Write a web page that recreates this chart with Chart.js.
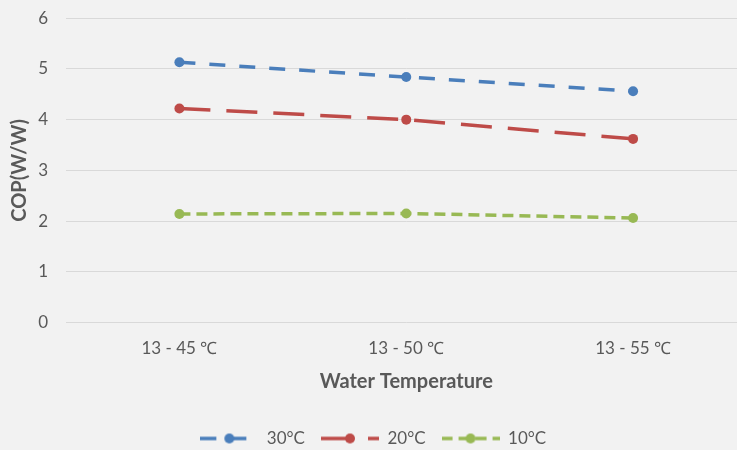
<!DOCTYPE html>
<html>
<head>
<meta charset="utf-8">
<script src="https://cdn.jsdelivr.net/npm/chart.js@4/dist/chart.umd.min.js"></script>
<style>
  html, body { margin: 0; padding: 0; background: #f2f2f2; overflow: hidden; }
  #wrap { position: relative; width: 737px; height: 450px; overflow: hidden; }
  #c { position: absolute; left: 0; top: -10px; }
</style>
</head>
<body>
<div id="wrap"><canvas id="c" width="762" height="467"></canvas></div>
<script>
// Water temperature ranges on the x axis
const categories = ['13 - 45 ℃', '13 - 50 ℃', '13 - 55 ℃'];
// COP values per ambient temperature
const seriesNames = ['30°C', '20°C', '10°C'];
const cop30 = [5.13, 4.84, 4.56];
const cop20 = [4.22, 4.00, 3.62];
const cop10 = [2.14, 2.15, 2.06];
const yTicks = [0, 1, 2, 3, 4, 5, 6];

const colors = ['#4a7ebb', '#be4b48', '#98b954'];
const dashes = [[16, 14], [31, 16], [11, 6]];
const textColor = '#595959';
const fontFamily = 'Lato, "Open Sans", "Liberation Sans", sans-serif';

// Small legend swatch: dashed line with a marker in the middle
function swatch(color, dash) {
  const c = document.createElement('canvas');
  c.width = 58; c.height = 14;
  const g = c.getContext('2d');
  g.strokeStyle = color;
  g.lineWidth = 3.5;
  g.setLineDash(dash);
  g.beginPath();
  g.moveTo(0, 7); g.lineTo(58, 7);
  g.stroke();
  g.fillStyle = color;
  g.beginPath();
  g.arc(29, 7, 5, 0, Math.PI * 2);
  g.fill();
  return c;
}
const swatches = colors.map((c, i) => swatch(c, dashes[i]));

const values = [cop30, cop20, cop10];
const datasets = values.map((v, i) => ({
  label: seriesNames[i],
  data: v,
  borderColor: colors[i],
  backgroundColor: colors[i],
  borderWidth: 3.5,
  borderDash: dashes[i],
  pointRadius: 5,
  pointHoverRadius: 5,
  pointBorderWidth: 0,
  pointBackgroundColor: colors[i],
  tension: 0,
  fill: false
}));

new Chart(document.getElementById('c'), {
  type: 'line',
  data: { labels: categories, datasets },
  options: {
    responsive: false,
    animation: false,
    events: [],
    layout: { padding: { left: 0, right: 15.5, top: 0, bottom: 0 } },
    plugins: {
      tooltip: { enabled: false },
      legend: {
        position: 'bottom',
        labels: {
          color: textColor,
          font: { family: fontFamily, size: 17 },
          usePointStyle: true,
          pointStyleWidth: 58,
          padding: 16,
          generateLabels: chart => chart.data.datasets.map((d, i) => ({
            text: d.label,
            fillStyle: d.borderColor,
            strokeStyle: d.borderColor,
            fontColor: textColor,
            pointStyle: swatches[i],
            lineWidth: 0,
            datasetIndex: i,
            hidden: false
          }))
        }
      }
    },
    scales: {
      x: {
        offset: true,
        afterFit: scale => { scale.height = 91.5; },
        grid: { display: false, drawTicks: false },
        border: { display: false },
        ticks: { color: textColor, font: { family: fontFamily, size: 17 }, padding: 16 },
        title: {
          display: true,
          text: 'Water Temperature',
          color: textColor,
          font: { family: fontFamily, size: 20, weight: 'bold' },
          padding: { top: 10.5, bottom: 20.5 }
        }
      },
      y: {
        min: 0,
        max: 6,
        afterBuildTicks: scale => { scale.ticks = yTicks.map(v => ({ value: v })); },
        afterFit: scale => { scale.width = 66; },
        grid: { color: '#d9d9d9', lineWidth: 1, drawTicks: false },
        border: { display: false },
        ticks: { color: textColor, font: { family: fontFamily, size: 17 }, padding: 18 },
        title: {
          display: true,
          text: 'COP(W/W)',
          color: textColor,
          font: { family: fontFamily, size: 20, weight: 'bold' },
          padding: { top: 8, bottom: 0 }
        }
      }
    }
  }
});
</script>
</body>
</html>
